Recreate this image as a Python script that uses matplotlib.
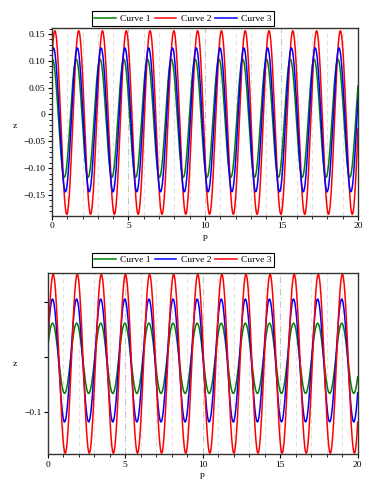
import numpy as np
import matplotlib.pyplot as plt
from matplotlib.ticker import MultipleLocator, FixedLocator, FixedFormatter

plt.rcParams["font.family"] = ["Liberation Serif", "DejaVu Serif"]
plt.rcParams["font.size"] = 6.8

# Valeurs : décalage, amplitude, phase (p du premier pic), période
periode = 1.555
noms_haut = ["Curve 1", "Curve 2", "Curve 3"]
couleurs_haut = ["#008000", "#ff0000", "#0000ff"]
centre_haut = [-0.007, -0.015, -0.010]
ampl_haut = [0.110, 0.171, 0.134]
phase_haut = [0.03, 0.19, 0.10]

noms_bas = ["Curve 1", "Curve 2", "Curve 3"]
couleurs_bas = ["#008000", "#0000ff", "#ff0000"]
centre_bas = [-0.002, -0.006, -0.012]
ampl_bas = [0.064, 0.112, 0.163]
phase_bas = [0.31, 0.31, 0.35]

p = np.linspace(0, 20, 2000)


def tracer(ax, noms, couleurs, centres, ampls, phases):
    lignes = []
    for nom, coul, c, a, ph in zip(noms, couleurs, centres, ampls, phases):
        z = c + a * np.cos(2 * np.pi / periode * (p - ph))
        l, = ax.plot(p, z, color=coul, lw=1.1, label=nom)
        lignes.append(l)
    ax.set_xlim(0, 20)
    ax.xaxis.set_major_locator(MultipleLocator(5))
    ax.xaxis.set_minor_locator(MultipleLocator(1))
    # grille verticale façon Maple
    for x in range(1, 20):
        if x % 5 == 0:
            ax.axvline(x, color="#c8c8c8", lw=0.8, ls=(0, (6, 2, 1, 2)), zorder=0)
        else:
            ax.axvline(x, color="#e0e0e0", lw=0.8, ls=(0, (4, 3)), zorder=0)
    ax.tick_params(which="major", length=3, width=0.8, direction="out", pad=1.5)
    ax.tick_params(which="minor", length=2, width=0.6, direction="out")
    for s in ax.spines.values():
        s.set_linewidth(1.0)
        s.set_color("#333333")
    ax.set_xlabel("p", labelpad=2)
    ax.set_ylabel("z", rotation=0, va="center")
    return lignes


fig = plt.figure(figsize=(3.82, 4.90), dpi=100)

ax1 = fig.add_axes([0.1361, 0.5598, 0.8010, 0.3824])
l1 = tracer(ax1, noms_haut, couleurs_haut, centre_haut, ampl_haut, phase_haut)
ax1.set_ylim(-0.1886, 0.1606)
ax1.yaxis.set_major_locator(MultipleLocator(0.05))
ax1.yaxis.set_minor_locator(MultipleLocator(0.01))
ax1.yaxis.set_major_formatter(lambda v, pos: "0" if abs(v) < 1e-9 else f"{v:.2f}".replace("-", "\u2212"))
ax1.yaxis.set_label_coords(-0.12, 0.48)

ax2 = fig.add_axes([0.1249, 0.0729, 0.8115, 0.3694])
l2 = tracer(ax2, noms_bas, couleurs_bas, centre_bas, ampl_bas, phase_bas)
ax2.set_ylim(-0.177, 0.153)
ax2.yaxis.set_major_locator(FixedLocator([-0.1, 0.0, 0.1]))
ax2.yaxis.set_major_formatter(FixedFormatter(["\u22120.1", "", ""]))
ax2.yaxis.set_minor_locator(FixedLocator([]))
ax2.yaxis.set_label_coords(-0.105, 0.5)

for lignes, y in [(l1, 0.962), (l2, 0.470)]:
    fig.legend(handles=lignes, loc="center", bbox_to_anchor=(0.479, y),
               ncol=3, frameon=True, fancybox=False, edgecolor="black",
               handlelength=2.3, handletextpad=0.45, columnspacing=0.4,
               borderpad=0.3, framealpha=1).get_frame().set_linewidth(0.8)

fig.savefig("out.png", dpi=100)
